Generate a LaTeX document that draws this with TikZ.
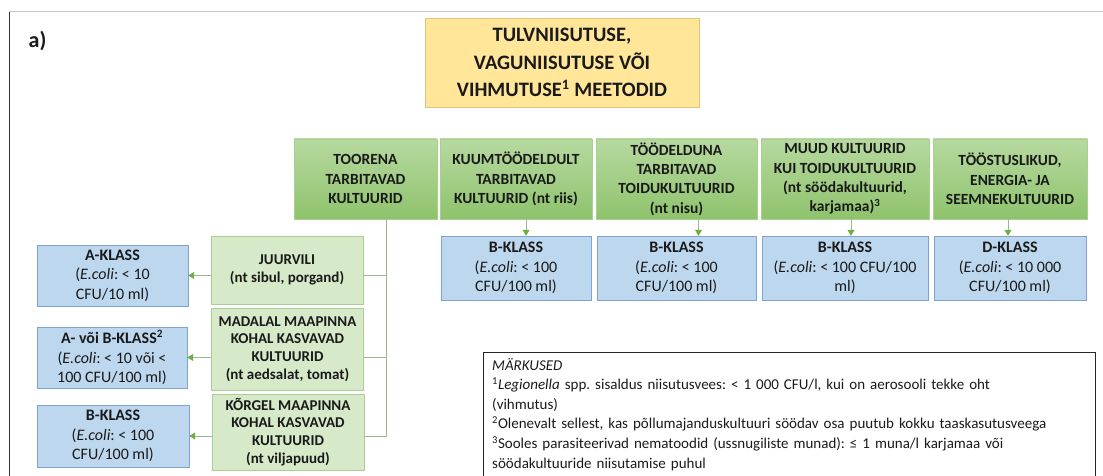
\documentclass[tikz,border=0pt]{standalone}
\usepackage{fontspec}
\setmainfont{Carlito}
\usetikzlibrary{arrows.meta}
\frenchspacing
\definecolor{titlefill}{HTML}{FFE699}
\definecolor{titleline}{HTML}{E3C47A}
\definecolor{greentop}{HTML}{B7D9A0}
\definecolor{greenbot}{HTML}{8EC36C}
\definecolor{greenline}{HTML}{A9CF92}
\definecolor{greenlight}{HTML}{D6E9C8}
\definecolor{bluefill}{HTML}{BDD7EE}
\definecolor{blueline}{HTML}{7FA2CF}
\definecolor{linkgray}{HTML}{98B98A}
\definecolor{arrowgreen}{HTML}{6DAE45}
\definecolor{textgray}{HTML}{1A1A1A}
\definecolor{framegray}{HTML}{C8C8C8}
\begin{document}
\begin{tikzpicture}[x=1pt,y=-1pt,
    every node/.style={inner sep=0pt,align=center,text=textgray},
    titlebox/.style={draw=titleline,fill=titlefill,minimum width=274pt,minimum height=89pt,
      font=\bfseries\fontsize{20.5}{27.5}\selectfont},
    cropbox/.style={draw=greenline,top color=greentop,bottom color=greenbot,minimum height=80pt,
      font=\bfseries\fontsize{15.5}{19.3}\selectfont},
    subbox/.style={draw=greenline,fill=greenlight,minimum width=152pt,
      font=\bfseries\fontsize{15}{17.8}\selectfont},
    classbox/.style={draw=blueline,fill=bluefill,minimum height=63pt,
      font=\fontsize{16}{19.5}\selectfont},
    notebox/.style={align=left,text width=594pt,inner xsep=9pt,inner ysep=6pt,
      font=\fontsize{15}{19.6}\selectfont},
    link/.style={draw=linkgray,line width=1pt},
    arr/.style={link,-{Triangle[length=6pt,width=7pt,color=arrowgreen]}}]
  \clip (0,0) rectangle (1103,476);
  % frame
  \draw[framegray,line width=1pt] (9,12) -- (1103,12);
  \draw[black!80,line width=1pt] (9.5,12) -- (9.5,476);
  \node[font=\bfseries\fontsize{22}{26}\selectfont] (tag) at (37.5,41) {a)};
  % title
  \node[titlebox] (title) at (562,62.5) {TULVNIISUTUSE,\\VAGUNIISUTUSE VÕI\\VIHMUTUSE\textsuperscript{1} MEETODID};
  % crop groups
  \node[cropbox,minimum width=143pt] (g1) at (365.5,179) {TOORENA\\TARBITAVAD\\KULTUURID};
  \node[cropbox,minimum width=152pt] (g2) at (516,179) {KUUMTÖÖDELDULT\\TARBITAVAD\\KULTUURID (nt riis)};
  \node[cropbox,minimum width=161pt] (g3) at (676.5,179) {TÖÖDELDUNA\\TARBITAVAD\\TOIDUKULTUURID\\(nt nisu)};
  \node[cropbox,minimum width=168pt] (g4) at (845,179) {MUUD KULTUURID\\KUI TOIDUKULTUURID\\(nt söödakultuurid,\\karjamaa)\textsuperscript{3}};
  \node[cropbox,minimum width=154pt] (g5) at (1010,179) {TÖÖSTUSLIKUD,\\ENERGIA- JA\\SEEMNEKULTUURID};
  % classes under the groups
  \node[classbox,minimum width=150pt,minimum height=64pt] (b1) at (516,268) {\textbf{B-KLASS}\\(\textit{E.coli}: < 100\\CFU/100 ml)};
  \node[classbox,minimum width=159pt,minimum height=64pt] (b2) at (676.5,268) {\textbf{B-KLASS}\\(\textit{E.coli}: < 100\\CFU/100 ml)};
  \node[classbox,minimum width=166pt,minimum height=64pt] (b3) at (845,268) {\textbf{B-KLASS}\\(\textit{E.coli}: < 100 CFU/100\\ml)};
  \node[classbox,minimum width=152pt,minimum height=64pt] (b4) at (1010,268) {\textbf{D-KLASS}\\(\textit{E.coli}: < 10 000\\CFU/100 ml)};
  % raw eaten crops
  \node[subbox,minimum height=68pt] (s1) at (287,270) {JUURVILI\\(nt sibul, porgand)};
  \node[subbox,minimum height=82pt] (s2) at (287.5,349) {MADALAL MAAPINNA\\KOHAL KASVAVAD\\KULTUURID\\(nt aedsalat, tomat)};
  \node[subbox,minimum height=76pt] (s3) at (288,432) {KÕRGEL MAAPINNA\\KOHAL KASVAVAD\\KULTUURID\\(nt viljapuud)};
  \node[classbox,minimum width=151pt,minimum height=61pt] (a1) at (112.5,275.5) {\textbf{A-KLASS}\\(\textit{E.coli}: < 10\\CFU/10 ml)};
  \node[classbox,minimum width=150pt,minimum height=61pt] (a2) at (112,357.5) {\textbf{A- või B-KLASS\textsuperscript{2}}\\(\textit{E.coli}: < 10 või <\\100 CFU/100 ml)};
  \node[classbox,minimum width=152pt,minimum height=62pt] (a3) at (113,436) {\textbf{B-KLASS}\\(\textit{E.coli}: < 100\\CFU/100 ml)};
  % notes
  \node[notebox,anchor=north west] (notes) at (483,352) {\textit{MÄRKUSED}\\
    \textsuperscript{1}\textit{Legionella} spp. sisaldus niisutusvees: < 1 000 CFU/l, kui on aerosooli tekke oht\\
    (vihmutus)\\
    \textsuperscript{2}Olenevalt sellest, kas põllumajanduskultuuri söödav osa puutub kokku taaskasutusveega\\
    \textsuperscript{3}Sooles parasiteerivad nematoodid (ussnugiliste munad): ≤ 1 muna/l karjamaa või\\
    söödakultuuride niisutamise puhul};
  \coordinate (nbot) at (0,490);
  \draw[black!85,line width=1pt] (notes.north west) rectangle (notes.east |- nbot);
  % connectors
  \coordinate (trunk) at ([xshift=21pt]g1.south);
  \draw[link] (trunk) -- (trunk |- a3);
  \foreach \i in {1,2,3} {
    \draw[link] (s\i.east |- a\i) -- (trunk |- a\i);
    \draw[arr] (s\i.west |- a\i) -- (a\i.east);
  }
  \draw[arr] ([xshift=10pt]g2.south) -- ([xshift=10pt]g2.south |- b1.north);
  \draw[arr] ([xshift=22pt]g3.south) -- ([xshift=22pt]g3.south |- b2.north);
  \draw[arr] ([xshift=6pt]g4.south) -- ([xshift=6pt]g4.south |- b3.north);
  \draw[arr] ([xshift=-2pt]g5.south) -- ([xshift=-2pt]g5.south |- b4.north);
\end{tikzpicture}
\end{document}
